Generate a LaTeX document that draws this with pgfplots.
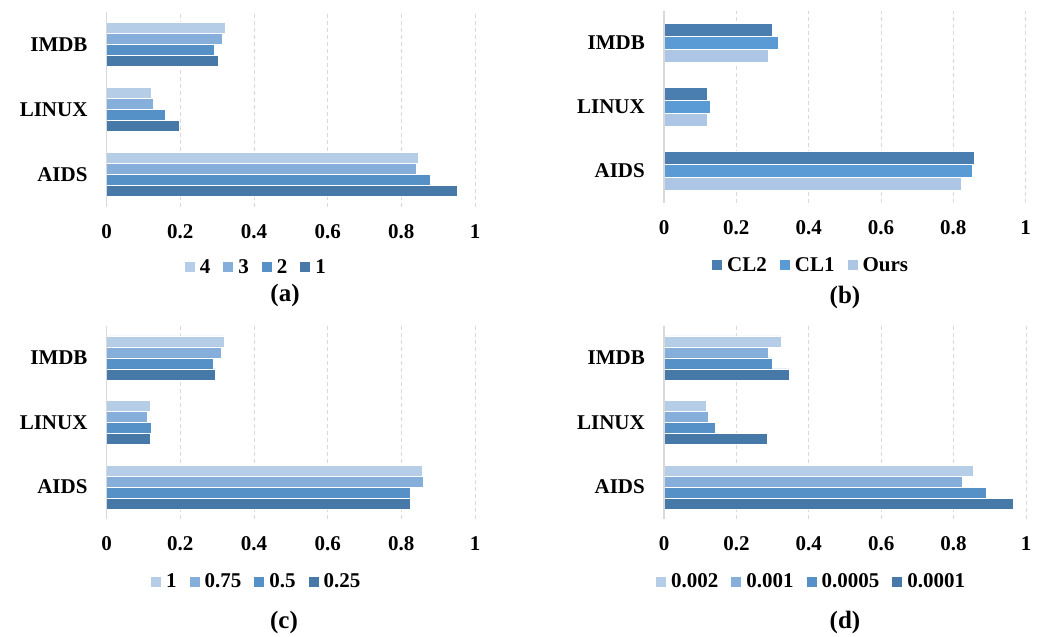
\documentclass[border=0pt]{standalone}
\usepackage{fontspec}
\setmainfont{Liberation Serif}
\usepackage{pgfplots}
\pgfplotsset{compat=1.18}
\definecolor{cA}{HTML}{B6CDE8}
\definecolor{cB}{HTML}{86AEDB}
\definecolor{cC}{HTML}{5591C7}
\definecolor{cD}{HTML}{4679A8}
\definecolor{bCLtwo}{HTML}{4A7EB0}
\definecolor{bCLone}{HTML}{5B9BD5}
\definecolor{bOurs}{HTML}{AEC6E6}
\definecolor{gridgray}{HTML}{D9D9D9}
\pgfplotsset{
  hb/.style={
    xbar, scale only axis, xmin=0, xmax=1, ymin=-0.5, ymax=2.5,
    enlargelimits=false,
    ytick={0,1,2}, yticklabels={AIDS,LINUX,IMDB},
    xtick={0,0.2,0.4,0.6,0.8,1}, xticklabels={0,0.2,0.4,0.6,0.8,1},
    axis line style={draw=none},
    major tick length=0pt,
    xmajorgrids, ymajorgrids=false,
    major grid style={gridgray, line width=0.8pt, dash pattern=on 4pt off 3pt},
    tick label style={font=\fontsize{21}{21}\selectfont\bfseries},
    yticklabel style={inner sep=0pt, xshift=-19pt},
    xticklabel style={inner sep=0pt, yshift=-17pt},
    every axis plot/.append style={draw=white, line width=0.5pt},
    legend style={draw=none, fill=none, legend columns=-1, anchor=center,
      font=\fontsize{21}{21}\selectfont\bfseries,
      nodes={inner sep=0pt},
      /tikz/every odd column/.append style={column sep=5pt},
      /tikz/every even column/.append style={column sep=13pt}},
    legend image code/.code={\fill[##1, draw=none] (0pt,-5pt) rectangle (10pt,5pt);},
    extra description/.code={\draw[gridgray, line width=1.5pt] (axis cs:0,-0.5) -- (axis cs:0,2.5);},
  }
}
\begin{document}
\begin{tikzpicture}
\path (0,0) rectangle (1051pt,634pt);
% (a)
\begin{axis}[hb, at={(106.7pt,427pt)}, anchor=south west, width=368.3pt, height=195pt,
  bar width=11pt, legend style={at={(0.404,-0.308)}}]
\addplot[fill=cA, bar shift=16.5pt] coordinates {(0.847,0) (0.122,1) (0.322,2)};
\addplot[fill=cB, bar shift=5.5pt] coordinates {(0.840,0) (0.126,1) (0.315,2)};
\addplot[fill=cC, bar shift=-5.5pt] coordinates {(0.879,0) (0.160,1) (0.292,2)};
\addplot[fill=cD, bar shift=-16.5pt] coordinates {(0.953,0) (0.196,1) (0.303,2)};
\legend{4,3,2,1}
\end{axis}
% (b)
\begin{axis}[hb, at={(664pt,431pt)}, anchor=south west, width=361.7pt, height=192pt,
  bar width=13pt, legend style={at={(0.404,-0.323)}}]
\addplot[fill=bCLtwo, bar shift=13pt] coordinates {(0.859,0) (0.120,1) (0.300,2)};
\addplot[fill=bCLone, bar shift=0pt] coordinates {(0.853,0) (0.127,1) (0.315,2)};
\addplot[fill=bOurs, bar shift=-13pt] coordinates {(0.823,0) (0.120,1) (0.287,2)};
\legend{CL2,CL1,Ours}
\end{axis}
% (c)
\begin{axis}[hb, at={(106.7pt,114.7pt)}, anchor=south west, width=368.3pt, height=193.6pt,
  bar width=11pt, legend style={at={(0.405,-0.322)}}]
\addplot[fill=cA, bar shift=16.5pt] coordinates {(0.858,0) (0.117,1) (0.320,2)};
\addplot[fill=cB, bar shift=5.5pt] coordinates {(0.859,0) (0.110,1) (0.310,2)};
\addplot[fill=cC, bar shift=-5.5pt] coordinates {(0.823,0) (0.121,1) (0.288,2)};
\addplot[fill=cD, bar shift=-16.5pt] coordinates {(0.825,0) (0.119,1) (0.296,2)};
\legend{1,0.75,0.5,0.25}
\end{axis}
% (d)
\begin{axis}[hb, at={(664pt,114.7pt)}, anchor=south west, width=362pt, height=193.6pt,
  bar width=11pt, legend style={at={(0.405,-0.322)}}]
\addplot[fill=cA, bar shift=16.5pt] coordinates {(0.855,0) (0.117,1) (0.324,2)};
\addplot[fill=cB, bar shift=5.5pt] coordinates {(0.823,0) (0.121,1) (0.287,2)};
\addplot[fill=cC, bar shift=-5.5pt] coordinates {(0.889,0) (0.142,1) (0.300,2)};
\addplot[fill=cD, bar shift=-16.5pt] coordinates {(0.966,0) (0.285,1) (0.346,2)};
\legend{0.002,0.001,0.0005,0.0001}
\end{axis}
\node[font=\fontsize{25}{25}\selectfont\bfseries] at (285pt,339pt) {(a)};
\node[font=\fontsize{25}{25}\selectfont\bfseries] at (845pt,337pt) {(b)};
\node[font=\fontsize{25}{25}\selectfont\bfseries] at (284pt,12pt) {(c)};
\node[font=\fontsize{25}{25}\selectfont\bfseries] at (845pt,12pt) {(d)};
\end{tikzpicture}
\end{document}
